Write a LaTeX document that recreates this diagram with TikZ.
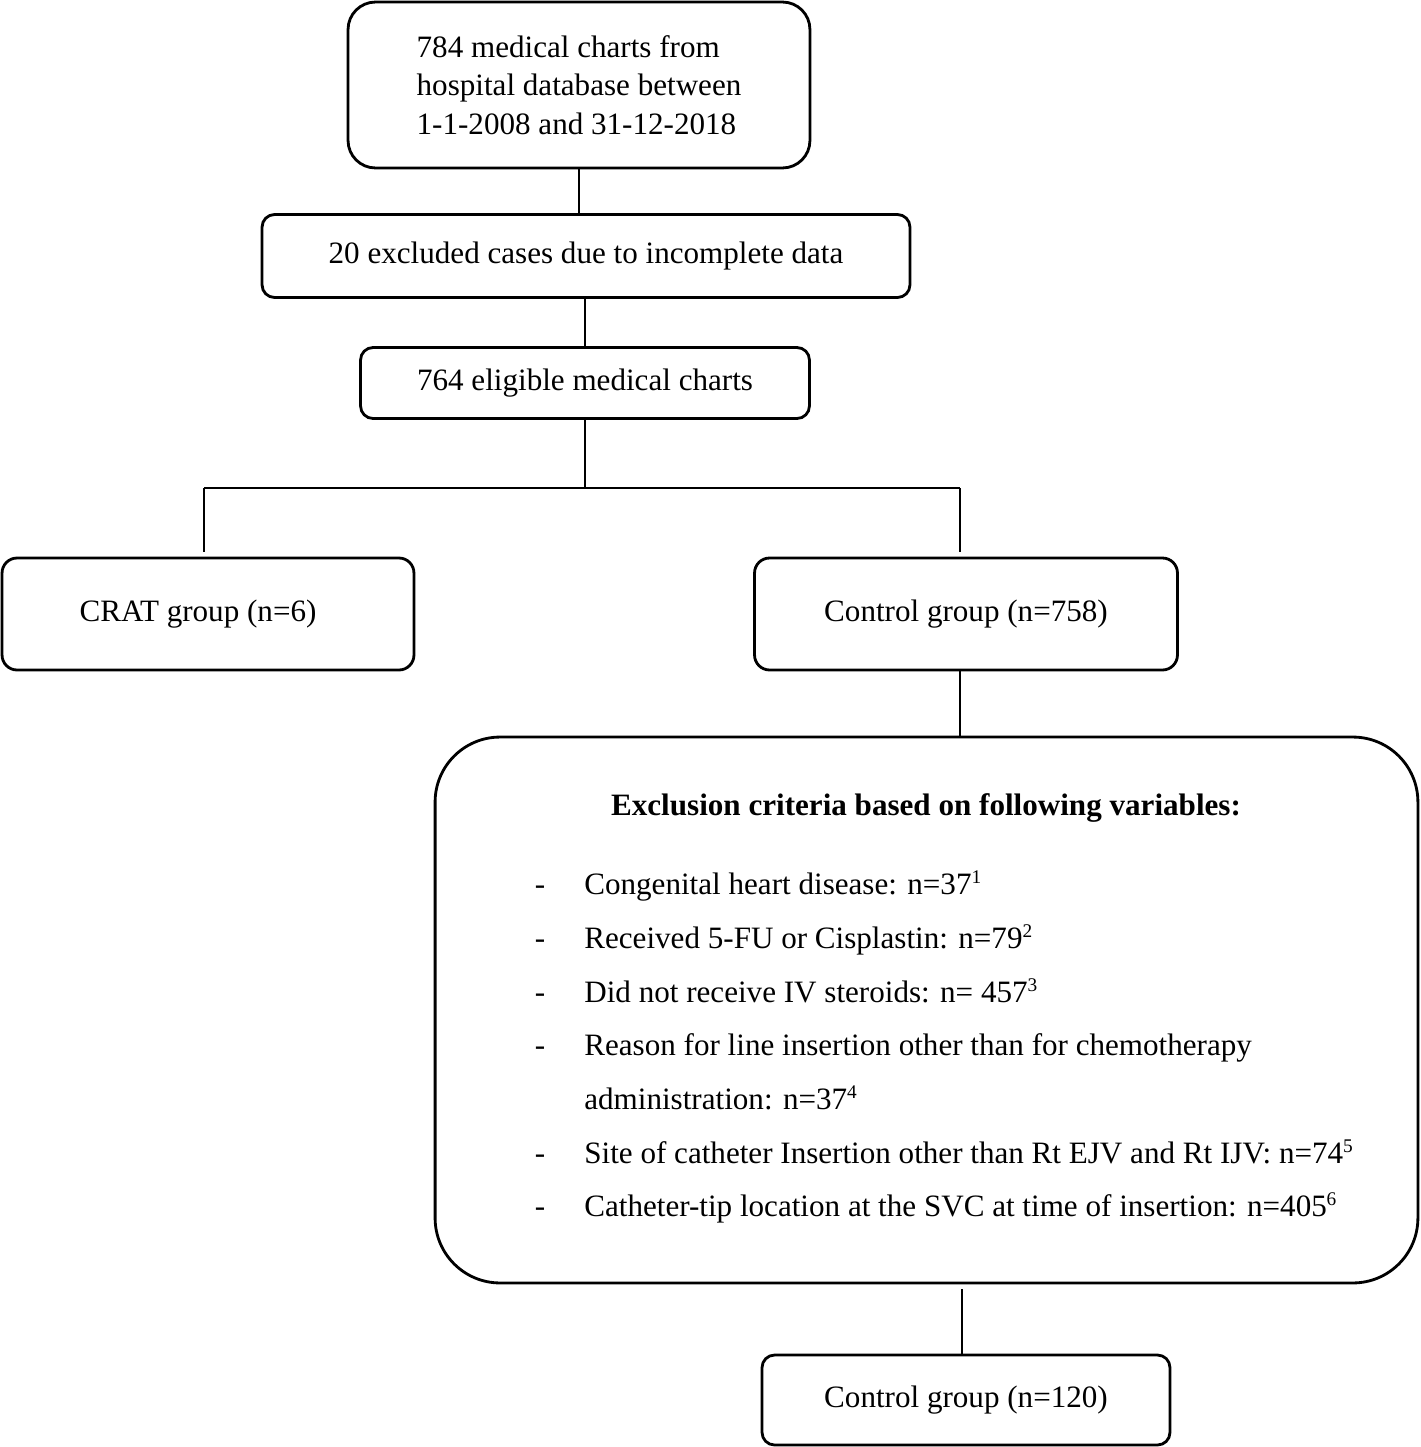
\documentclass[tikz,border=0pt]{standalone}
\usepackage{fontspec}
\setmainfont{Liberation Serif}

\newcommand\refnum[1]{\raisebox{0.33em}{\fontsize{11}{11}\selectfont #1}}

\tikzset{
  box/.style={draw, line width=1.6pt, rounded corners=0.3cm, align=center, inner sep=0pt},
  conn/.style={line width=1.1pt},
}

\begin{document}
\begin{tikzpicture}[x=0.02cm,y=-0.02cm,font=\fontsize{17.7}{22}\selectfont]
\useasboundingbox (0,0) rectangle (1420,1447);

\node[box,rounded corners=0.55cm,align=left,minimum width=9.24cm,minimum height=3.32cm] (charts) at (579,85)
  {784 medical charts from\\hospital database between\\1-1-2008 and 31-12-2018};
\node[box,rounded corners=0.25cm,minimum width=12.96cm,minimum height=1.66cm] (excluded) at (586,256)
  {20 excluded cases due to incomplete data};
\node[box,rounded corners=0.25cm,minimum width=8.98cm,minimum height=1.42cm] (eligible) at (585,383)
  {764 eligible medical charts};
\node[box,minimum width=8.24cm,minimum height=2.24cm] (crat) at (208,614) {CRAT group (n=6)\hspace*{0.4cm}};
\node[box,minimum width=8.46cm,minimum height=2.24cm] (control) at (966,614) {Control group (n=758)};
\node[box,rounded corners=1.3cm,minimum width=19.66cm,minimum height=10.92cm] (criteria) at (926.5,1010) {};
\node[box,rounded corners=0.25cm,minimum width=8.16cm,minimum height=1.8cm] (final) at (966,1400) {Control group (n=120)};

% exclusion criteria
\node[font=\fontsize{17.7}{22}\selectfont\bfseries] (crittitle) at (926,808) {Exclusion criteria based on following variables:};
\foreach \y in {894,948,1002,1055,1163,1216}
  \node[anchor=base,inner sep=0pt] (dash-\y) at (540,\y) {-};
\foreach \y/\txt in {894/{Congenital heart disease: n=37\refnum{1}},
    948/{Received 5-FU or Cisplastin: n=79\refnum{2}},
    1002/{Did not receive IV steroids: n= 457\refnum{3}},
    1055/{Reason for line insertion other than for chemotherapy},
    1109/{administration: n=37\refnum{4}},
    1163/{Site of catheter Insertion other than Rt EJV and Rt IJV: n=74\refnum{5}},
    1216/{Catheter-tip location at the SVC at time of insertion: n=405\refnum{6}}}
  \node[anchor=base west,inner sep=0pt] (item-\y) at (584,\y) {\txt};

% connectors
\coordinate (split) at (585,488);
\coordinate (lsplit) at (204,488);
\coordinate (rsplit) at (960,488);
\coordinate (critout) at (962,1283);
\draw[conn] (charts.south) -- (charts.south |- excluded.north);
\draw[conn] (eligible.north) -- (eligible.north |- excluded.south);
\draw[conn] (eligible.south) -- (split);
\draw[conn] (lsplit) -- (rsplit);
\draw[conn,shorten >=0.1cm] (lsplit) -- (lsplit |- crat.north);
\draw[conn,shorten >=0.1cm] (rsplit) -- (rsplit |- control.north);
\draw[conn] (control.south -| rsplit) -- (criteria.north -| rsplit);
\draw[conn,shorten <=0.12cm] (critout) -- (critout |- final.north);
\end{tikzpicture}
\end{document}
